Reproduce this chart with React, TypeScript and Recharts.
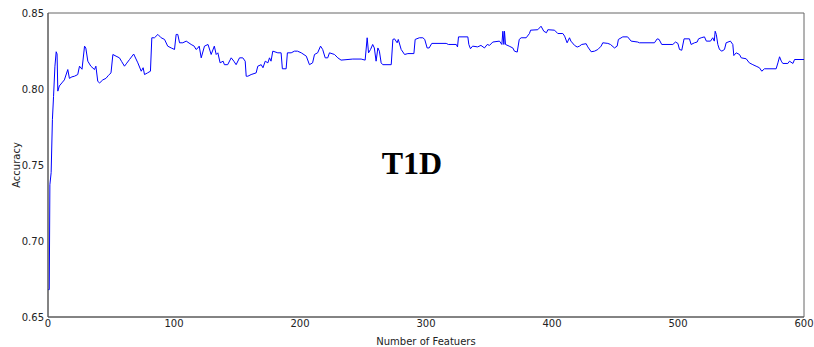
import React from "react";
import { LineChart, Line, XAxis, YAxis, ReferenceArea } from "recharts";

// x positions (number of features) and accuracy
const features = [
  0, 1, 1.5, 2.5, 3.5, 4.4, 5.5, 6.5, 7.2, 7.8, 9, 11, 13, 15.7, 17, 19, 21, 23.6, 25, 27,
  29, 30, 31.6, 34, 36.9, 38, 39.5, 41, 43.5, 46, 48, 50, 51.5, 54, 56.7, 58.5, 60.7, 62.5, 64.7, 68,
  71.3, 74, 75.5, 76.6, 79, 81.3, 82.4, 84.5, 87.2, 89.8, 92.5, 95, 97.8, 100.4, 101.7, 103, 104.4, 107, 109.7, 113.6,
  116, 117.5, 119, 120, 121.6, 124.2, 127, 129.5, 132, 133.5, 134.8, 136.6, 139, 140, 142.6, 145.4, 147.5, 149.3, 152, 154.6,
  156.5, 157.3, 158.6, 161.2, 165.2, 166.5, 169.2, 170.6, 172.4, 174.5, 175.8, 177, 178.4, 182.4, 185, 186, 189, 190, 193, 195.6,
  198, 201, 205, 207.5, 210, 211.5, 214, 216.3, 218, 220, 222, 223.4, 227.4, 230, 232.6, 241.9, 248.5, 251.7, 253.3, 254.4,
  256, 257.7, 259, 260.4, 261.8, 263, 264.4, 265.7, 272.4, 273.7, 275, 277.1, 278, 280.3, 283, 285.6, 290.4, 291.4, 294.7, 297.5,
  299, 300.9, 302.5, 304.6, 316, 317.8, 324, 325, 325.8, 333.2, 334, 335.3, 337, 341, 343.6, 346.4, 348.6, 350.4, 353, 358.3,
  360.2, 361, 361.8, 362.3, 363.1, 366, 368.9, 370.2, 372.4, 374, 375.5, 379.5, 382.1, 383, 388.7, 391.3, 393.5, 395.6, 396.7, 402,
  404.6, 408.6, 410, 412, 413.9, 415, 417.9, 420, 421.8, 423.6, 427.1, 428.4, 431.1, 433.8, 436.4, 439, 440.3, 444.3, 446.4, 449.6,
  451.7, 452.7, 456.2, 460, 462.8, 468, 469.4, 481.3, 483.5, 485, 487.1, 495.9, 498, 499.9, 501.2, 503, 504.8, 509.1, 510.4, 513.1,
  515.2, 516.3, 518.4, 521, 522.5, 525.8, 527, 527.6, 528.8, 529.5, 530.4, 531.6, 532.9, 534.8, 536.9, 538.2, 541.6, 543.5, 544.3, 546.2,
  548.8, 550.2, 554.1, 556.6, 559.4, 562, 564.6, 566.5, 568.6, 577.9, 579.3, 580.6, 582, 583.2, 587.2, 588.5, 591.2, 592.5, 600,
];

const accuracy = [
  0.668, 0.668, 0.737, 0.745, 0.78, 0.795, 0.815, 0.8245, 0.823, 0.7986, 0.802, 0.804, 0.806, 0.8128, 0.807, 0.808, 0.8084, 0.8095, 0.815, 0.813,
  0.8282, 0.827, 0.8183, 0.815, 0.8128, 0.815, 0.805, 0.804, 0.806, 0.807, 0.809, 0.8106, 0.8227, 0.8216, 0.8205, 0.818, 0.815, 0.817, 0.8194, 0.823,
  0.8172, 0.8117, 0.814, 0.8095, 0.8106, 0.8117, 0.8337, 0.8337, 0.8359, 0.8337, 0.8326, 0.8282, 0.827, 0.826, 0.8359, 0.8359, 0.8304, 0.8304, 0.8315, 0.8293,
  0.8282, 0.826, 0.827, 0.8282, 0.8205, 0.8282, 0.8293, 0.8227, 0.8282, 0.8227, 0.8238, 0.8172, 0.8183, 0.816, 0.816, 0.8205, 0.8183, 0.816, 0.8205, 0.8205,
  0.8183, 0.8084, 0.8084, 0.8095, 0.8106, 0.815, 0.816, 0.814, 0.8183, 0.8172, 0.8205, 0.8183, 0.8249, 0.8238, 0.8238, 0.8133, 0.8133, 0.8238, 0.8238, 0.8249,
  0.8249, 0.8238, 0.8216, 0.816, 0.8172, 0.8227, 0.8238, 0.8282, 0.826, 0.8205, 0.8205, 0.8238, 0.8227, 0.8205, 0.819, 0.8197, 0.8197, 0.819, 0.8337, 0.8238,
  0.826, 0.8293, 0.827, 0.8183, 0.827, 0.8249, 0.8172, 0.816, 0.816, 0.8326, 0.833, 0.8304, 0.8326, 0.826, 0.8227, 0.8233, 0.8233, 0.8326, 0.8337, 0.8337,
  0.8326, 0.827, 0.827, 0.83, 0.83, 0.8293, 0.8293, 0.8277, 0.8343, 0.8343, 0.8293, 0.8265, 0.8282, 0.8277, 0.8287, 0.827, 0.8293, 0.8287, 0.8309, 0.8315,
  0.8293, 0.838, 0.8293, 0.838, 0.8293, 0.8282, 0.827, 0.8249, 0.8243, 0.8326, 0.8337, 0.8337, 0.8365, 0.8387, 0.839, 0.8413, 0.838, 0.837, 0.839, 0.8387,
  0.8365, 0.8365, 0.8348, 0.8304, 0.8337, 0.8315, 0.8287, 0.8276, 0.8282, 0.8293, 0.8298, 0.8277, 0.8245, 0.8249, 0.826, 0.8282, 0.8304, 0.83, 0.8293, 0.827,
  0.8282, 0.8326, 0.8343, 0.8343, 0.8315, 0.8309, 0.8304, 0.8304, 0.833, 0.8326, 0.8293, 0.8293, 0.8309, 0.83, 0.826, 0.8255, 0.833, 0.833, 0.8293, 0.8304,
  0.8309, 0.833, 0.8337, 0.8343, 0.8315, 0.8315, 0.833, 0.8337, 0.8315, 0.838, 0.8359, 0.8293, 0.826, 0.8249, 0.826, 0.8304, 0.8315, 0.8293, 0.822, 0.8238,
  0.8227, 0.8205, 0.8199, 0.8172, 0.816, 0.815, 0.814, 0.8117, 0.8133, 0.8133, 0.8172, 0.8212, 0.8183, 0.8168, 0.8168, 0.8183, 0.8168, 0.8194, 0.8194,
];

const xTicks = [0, 100, 200, 300, 400, 500, 600];
const yTicks = [0.65, 0.7, 0.75, 0.8, 0.85];

const data = features.map((f, i) => ({ f, acc: accuracy[i] }));

const tickStyle = { fontFamily: "DejaVu Sans", fontSize: 10, fill: "#222" };

export default function App() {
  return (
    <div style={{ position: "absolute", left: 0, top: 0, width: 814, height: 347, background: "#fff" }}>
      <LineChart width={814} height={347} data={data} margin={{ top: 13, right: 10, bottom: 0, left: 0 }}>
        <XAxis
          dataKey="f"
          type="number"
          domain={[0, 600]}
          ticks={xTicks}
          height={30}
          tick={tickStyle}
          tickLine={false}
          tickSize={3}
          tickMargin={0}
          axisLine={{ stroke: "#555" }}
          label={{
            value: "Number of Featuers",
            position: "insideBottom",
            offset: 2,
            style: { fontFamily: "DejaVu Sans", fontSize: 10, fill: "#222" },
          }}
        />
        <YAxis
          type="number"
          domain={[0.65, 0.85]}
          ticks={yTicks}
          width={48}
          tick={tickStyle}
          tickFormatter={(v: number) => v.toFixed(2)}
          tickLine={false}
          tickSize={4}
          tickMargin={0}
          axisLine={{ stroke: "#555" }}
          label={{
            value: "Accuracy",
            angle: -90,
            position: "insideLeft",
            offset: 16,
            style: { fontFamily: "DejaVu Sans", fontSize: 10, fill: "#222", textAnchor: "middle" },
          }}
        />
        {/* plot frame */}
        <ReferenceArea
          x1={0}
          x2={600}
          y1={0.65}
          y2={0.85}
          fill="none"
          fillOpacity={0}
          stroke="#666"
          strokeWidth={1}
          ifOverflow="visible"
        />
        <Line
          type="linear"
          dataKey="acc"
          stroke="#0000ff"
          strokeWidth={1}
          dot={false}
          isAnimationActive={false}
        />
      </LineChart>
      <svg width={814} height={347} style={{ position: "absolute", left: 0, top: 0, pointerEvents: "none" }}>
        <text
          x={412}
          y={174}
          textAnchor="middle"
          fontFamily="Liberation Serif"
          fontWeight="bold"
          fontSize={32}
          fill="#000"
        >
          T1D
        </text>
      </svg>
    </div>
  );
}
